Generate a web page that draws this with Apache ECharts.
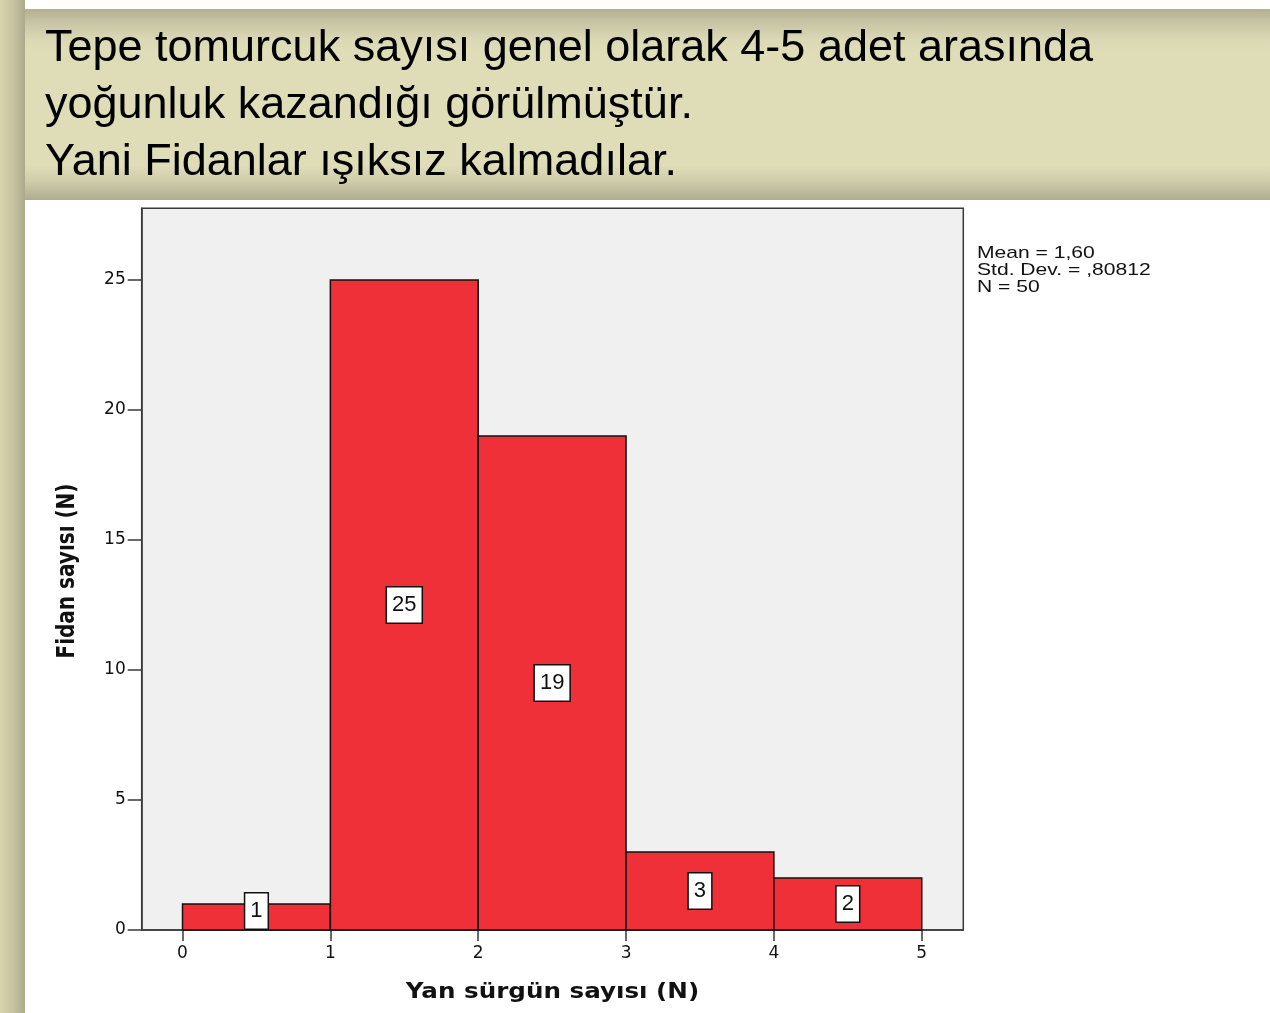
<!DOCTYPE html>
<html>
<head>
<meta charset="utf-8">
<script src="https://cdn.jsdelivr.net/npm/echarts@6/dist/echarts.min.js"></script>
<style>
html,body{margin:0;padding:0;background:#fff;}
#chart{width:1270px;height:1013px;}
</style>
</head>
<body>
<div id="chart"></div>
<script>
// ---- data ----
const binStart = [0, 1, 2, 3, 4];
const binEnd = [1, 2, 3, 4, 5];
const counts = [1, 25, 19, 3, 2];
const xTickValues = [0, 1, 2, 3, 4, 5];
const yTickValues = [0, 5, 10, 15, 20, 25];
const headingLines = [
  'Tepe tomurcuk sayısı genel olarak 4-5 adet arasında',
  'yoğunluk kazandığı görülmüştür.',
  'Yani Fidanlar ışıksız kalmadılar.'
];
const statsLines = ['Mean = 1,60', 'Std. Dev. = ,80812', 'N = 50'];
const xTitle = 'Yan sürgün sayısı (N)';
const yTitle = 'Fidan sayısı (N)';

const seriesData = binStart.map((s, i) => [s, binEnd[i], counts[i]]);

const chart = echarts.init(document.getElementById('chart'), null, {renderer: 'canvas'});

const headingY = [48.5, 105.5, 162.5];
const statsY = [253, 270.5, 287.5];

const graphics = [
  {
    type: 'rect', z: -10, silent: true,
    shape: {x: 0, y: 0, width: 25, height: 1013},
    style: {fill: new echarts.graphic.LinearGradient(0, 0, 1, 0, [
      {offset: 0, color: '#d8d4ae'}, {offset: 0.5, color: '#c8c4a1'}, {offset: 1, color: '#adaa8c'}
    ])}
  },
  {
    type: 'rect', z: -10, silent: true,
    shape: {x: 25, y: 9, width: 1245, height: 191},
    style: {fill: new echarts.graphic.LinearGradient(0, 0, 0, 1, [
      {offset: 0, color: '#b2b092'}, {offset: 0.06, color: '#c4c2a2'}, {offset: 0.16, color: '#dbd8b5'},
      {offset: 0.22, color: '#dfdcb8'}, {offset: 0.82, color: '#dfdcb8'}, {offset: 0.9, color: '#d0cdab'},
      {offset: 1, color: '#afad8e'}
    ])}
  }
];
headingLines.forEach((t, i) => {
  graphics.push({
    type: 'text', z: 10, x: 45, y: headingY[i],
    style: {text: t, fontFamily: '"Liberation Sans", Arial, sans-serif', fontSize: 45,
      fill: '#000', align: 'left', verticalAlign: 'middle'}
  });
});
statsLines.forEach((t, i) => {
  graphics.push({
    type: 'text', z: 10, x: 977, y: statsY[i], scaleX: 1.24,
    style: {text: t, fontFamily: '"Liberation Sans", Arial, sans-serif', fontSize: 17,
      fill: '#111', align: 'left', verticalAlign: 'middle'}
  });
});
graphics.push({
  type: 'text', z: 10, x: 552.5, y: 993, scaleX: 1.2,
  style: {text: xTitle, fontFamily: '"DejaVu Sans", sans-serif', fontWeight: 'bold', fontSize: 20.5,
    fill: '#111', align: 'center', verticalAlign: 'middle'}
});
graphics.push({
  type: 'text', z: 10, x: 68, y: 571, rotation: Math.PI / 2, scaleY: 1.2,
  style: {text: yTitle, fontFamily: '"DejaVu Sans", sans-serif', fontWeight: 'bold', fontSize: 20,
    fill: '#111', align: 'center', verticalAlign: 'middle'}
});

const axisColor = '#3a3a3a';

const option = {
  animation: false,
  backgroundColor: '#ffffff',
  graphic: graphics,
  grid: {
    left: 141.7, right: 306.7, top: 208.3, bottom: 83,
    show: true, backgroundColor: '#f0f0f0', borderColor: axisColor, borderWidth: 1.5,
    containLabel: false
  },
  xAxis: {
    type: 'value', min: -0.276, max: 5.281,
    splitLine: {show: false},
    axisLine: {show: true, onZero: false, lineStyle: {color: axisColor, width: 1.5}},
    axisTick: {show: true, inside: false, length: 11, customValues: xTickValues,
      lineStyle: {color: axisColor, width: 1.5}},
    axisLabel: {show: true, customValues: xTickValues, margin: 15, color: '#111',
      fontFamily: '"DejaVu Sans", sans-serif', fontSize: 17}
  },
  yAxis: {
    type: 'value', min: 0, max: 27.76,
    splitLine: {show: false},
    axisLine: {show: true, onZero: false, lineStyle: {color: axisColor, width: 1.5}},
    axisTick: {show: true, inside: false, length: 14, customValues: yTickValues,
      lineStyle: {color: axisColor, width: 1.5}},
    axisLabel: {show: true, customValues: yTickValues, margin: 16, color: '#111',
      fontFamily: '"DejaVu Sans", sans-serif', fontSize: 17}
  },
  series: [{
    type: 'custom',
    data: seriesData,
    encode: {x: [0, 1], y: 2},
    renderItem: function (params, api) {
      const x0 = api.value(0), x1 = api.value(1), v = api.value(2);
      const pA = api.coord([x0, 0]);
      const pB = api.coord([x1, v]);
      const midX = (pA[0] + pB[0]) / 2;
      const midY = (pA[1] + pB[1]) / 2;
      const labelY = Math.min(midY, pA[1] - 19);
      return {
        type: 'group',
        children: [
          {type: 'rect', shape: {x: pA[0], y: pB[1], width: pB[0] - pA[0], height: pA[1] - pB[1]},
            style: {fill: '#ef3038', stroke: '#111', lineWidth: 1.5}},
          {type: 'text', x: midX, y: labelY, z2: 10,
            style: {text: String(v), fontFamily: '"Liberation Sans", Arial, sans-serif', fontSize: 22,
              lineHeight: 22, fill: '#111', align: 'center', verticalAlign: 'middle',
              backgroundColor: '#ffffff', borderColor: '#111', borderWidth: 1.5, padding: [7, 5, 6, 5]}}
        ]
      };
    }
  }]
};
chart.setOption(option);
</script>
</body>
</html>
